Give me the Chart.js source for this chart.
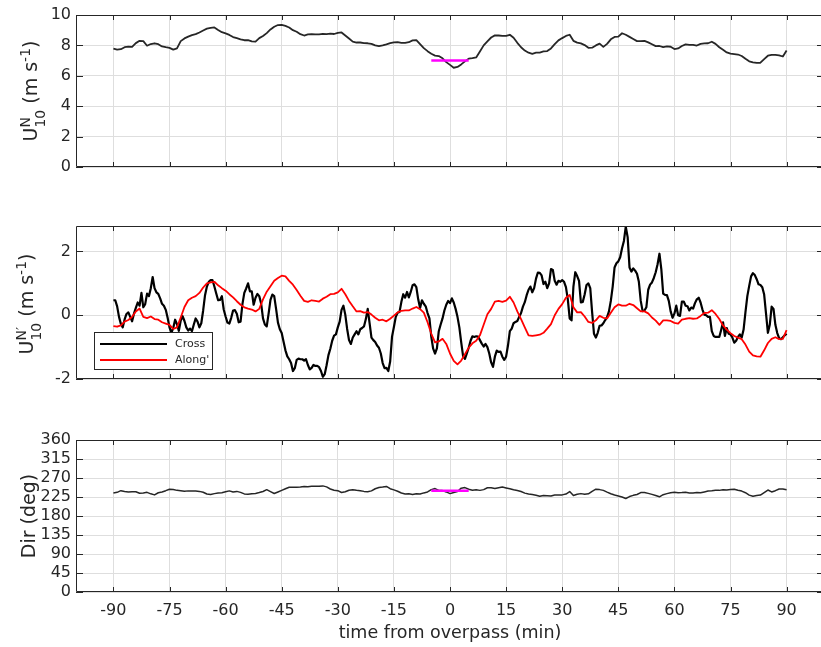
<!DOCTYPE html>
<html>
<head>
<meta charset="utf-8">
<script src="https://cdn.jsdelivr.net/npm/chart.js@4.4.1/dist/chart.umd.min.js"></script>
<style>
html,body{margin:0;padding:0;background:#ffffff;overflow:hidden;width:821px;height:647px;position:relative;}
canvas{position:absolute;left:0;}
</style>
</head>
<body>
<canvas id="c1" width="826" height="182" style="top:0px"></canvas>
<canvas id="c2" width="826" height="183" style="top:211px"></canvas>
<canvas id="c3" width="826" height="222" style="top:425px"></canvas>
<script>
// ---------------- data ----------------
const xTickValues = [-90,-75,-60,-45,-30,-15,0,15,30,45,60,75,90];
const u10TickValues = [0,2,4,6,8,10];
const primeTickValues = [-2,0,2];
const dirTickValues = [0,45,90,135,180,225,270,315,360];

const xTitle = 'time from overpass (min)';
const yTitleTop = [{t:'U'},{sup:'N',sub:'10'},{t:' (m s'},{sup:'-1'},{t:')'}];
const yTitleMid = [{t:'U'},{sup:'N\u2032',sub:'10'},{t:' (m s'},{sup:'-1'},{t:')'}];
const yTitleBottom = [{t:'Dir (deg)'}];
const legendLabels = ['Cross', "Along'"];

// U10N, one value per minute from -90 to 90
const u10Start = -90, u10Step = 1;
const u10Values = [
 7.78,7.72,7.75,7.88,7.92,7.9,8.15,8.3,8.28,7.98,
 8.09,8.14,8.08,7.93,7.88,7.84,7.72,7.8,8.28,8.46,
 8.58,8.68,8.74,8.85,8.98,9.1,9.15,9.18,9.02,8.87,
 8.79,8.69,8.55,8.48,8.4,8.34,8.35,8.27,8.25,8.48,
 8.62,8.81,9.05,9.23,9.34,9.35,9.28,9.18,9.0,8.9,
 8.74,8.65,8.72,8.74,8.72,8.72,8.76,8.74,8.77,8.75,
 8.82,8.85,8.65,8.45,8.25,8.19,8.19,8.15,8.14,8.1,
 8.0,7.95,8.0,8.07,8.15,8.2,8.21,8.17,8.17,8.21,
 8.33,8.35,8.08,7.82,7.62,7.45,7.33,7.3,7.15,6.9,
 6.72,
 6.53,6.58,6.75,6.95,7.13,7.16,7.21,7.6,8.0,8.27,
 8.52,8.66,8.65,8.63,8.63,8.7,8.5,8.17,7.88,7.66,
 7.52,7.45,7.52,7.53,7.6,7.63,7.8,8.08,8.33,8.48,
 8.62,8.7,8.3,8.18,8.13,8.02,7.84,7.85,8.0,8.12,
 7.9,8.1,8.4,8.56,8.58,8.8,8.7,8.56,8.42,8.28,
 8.28,8.3,8.2,8.08,7.95,7.96,7.89,7.93,7.91,7.76,
 7.8,7.96,8.07,8.04,8.04,7.99,8.1,8.13,8.14,8.24,
 8.1,7.88,7.71,7.54,7.46,7.43,7.4,7.3,7.12,6.95,
 6.89,6.85,6.86,7.1,7.32,7.38,7.38,7.34,7.27,7.67
];
const u10MeanTime = [-5, 5];
const u10MeanValues = [7.0, 7.0];

// Cross component, every 0.5 min from -90 to 90
const crossStart = -90, crossStep = 0.5;
const crossValues = [
 0.47,0.47,0.28,-0.05,-0.27,-0.38,-0.13,0.04,0.09,-0.05,
 -0.19,0.05,0.23,0.4,0.3,0.7,0.25,0.35,0.68,0.6,
 0.85,1.2,0.85,0.72,0.67,0.53,0.36,0.3,0.17,-0.08,
 -0.38,-0.55,-0.4,-0.14,-0.28,-0.49,-0.17,-0.03,-0.18,-0.38,
 -0.48,-0.42,-0.5,-0.29,-0.1,-0.2,-0.38,-0.25,0.15,0.63,
 0.9,1.05,1.1,1.1,0.9,0.68,0.47,0.48,0.6,0.18,
 -0.04,-0.23,-0.26,-0.08,0.15,0.16,0.05,-0.22,-0.2,0.35,
 0.7,0.84,1.0,0.75,0.75,0.33,0.55,0.67,0.6,0.37,
 -0.1,-0.29,-0.35,0.05,0.48,0.65,0.6,0.2,-0.23,-0.44,
 -0.56,-0.83,-1.1,-1.29,-1.38,-1.5,-1.75,-1.66,-1.4,-1.36,
 -1.38,-1.38,-1.42,-1.38,-1.56,-1.7,-1.65,-1.56,-1.59,-1.59,
 -1.63,-1.75,-1.93,-1.85,-1.57,-1.25,-1.05,-0.8,-0.64,-0.6,
 -0.38,-0.2,0.17,0.3,0.02,-0.43,-0.78,-0.9,-0.7,-0.6,
 -0.5,-0.6,-0.44,-0.4,-0.35,-0.12,0.2,-0.25,-0.7,-0.78,
 -0.84,-0.95,-1.02,-1.2,-1.5,-1.66,-1.65,-1.75,-1.45,-0.67,
 -0.37,-0.05,0.08,0.1,0.42,0.66,0.55,0.73,0.56,0.73,
 0.94,0.97,0.88,0.5,0.23,0.47,0.36,0.28,0.07,-0.1,
 -0.68,-1.05,-1.2,-1.04,-0.5,-0.29,-0.1,0.15,0.33,0.45,
 0.38,0.53,0.4,0.2,-0.05,-0.38,-0.85,-1.28,-1.37,-1.2,
 -1.02,-0.8,-0.66,-0.68,-0.66,-0.67,-0.78,-0.89,-0.98,-0.9,
 -1.0,-1.2,-1.48,-1.62,-1.3,-1.11,-1.15,-1.14,-1.3,-1.4,
 -1.3,-0.95,-0.5,-0.42,-0.25,-0.21,-0.18,-0.05,0.07,0.27,
 0.41,0.63,0.8,0.9,0.72,0.85,1.15,1.34,1.33,1.25,
 0.98,1.05,0.85,1.0,1.45,1.42,1.08,0.96,1.08,1.05,
 1.1,1.05,0.88,0.5,-0.1,-0.16,0.9,1.35,1.23,1.08,
 0.4,0.42,0.65,0.95,1.0,0.85,0.1,-0.58,-0.7,-0.55,
 -0.33,-0.32,-0.25,-0.15,-0.06,0.12,0.45,0.9,1.5,1.63,
 1.69,1.82,2.1,2.33,2.78,2.45,1.5,1.37,1.47,1.4,
 1.3,1.05,0.45,0.13,0.15,0.25,0.8,0.96,1.03,1.17,
 1.35,1.6,1.93,1.45,0.68,0.64,0.63,0.45,0.12,-0.08,
 0.05,0.3,0.0,-0.02,0.43,0.43,0.3,0.28,0.15,0.24,
 0.21,0.38,0.5,0.55,0.4,0.18,0.02,0.0,-0.05,-0.05,
 -0.5,-0.65,-0.68,-0.68,-0.68,-0.46,-0.22,-0.65,-0.4,-0.58,
 -0.6,-0.7,-0.86,-0.8,-0.68,-0.6,-0.7,-0.45,0.1,0.6,
 0.92,1.22,1.32,1.26,1.13,0.97,0.95,0.88,0.65,0.05,
 -0.55,-0.3,0.27,0.2,-0.3,-0.56,-0.72,-0.75,-0.69,-0.63,
 -0.58
];

// Along component, one value per minute from -90 to 90
const alongStart = -90, alongStep = 1;
const alongValues = [
 -0.34,-0.36,-0.32,-0.2,-0.15,-0.05,0.12,0.21,-0.05,-0.09,
 -0.04,-0.12,-0.14,-0.22,-0.26,-0.3,-0.43,-0.38,-0.07,0.26,
 0.47,0.55,0.6,0.7,0.87,1.0,1.03,1.05,0.94,0.85,
 0.77,0.66,0.56,0.44,0.33,0.25,0.21,0.18,0.12,0.2,
 0.5,0.74,0.91,1.08,1.17,1.24,1.22,1.08,0.96,0.79,
 0.61,0.45,0.42,0.47,0.45,0.43,0.52,0.58,0.66,0.67,
 0.72,0.83,0.66,0.45,0.28,0.12,0.13,0.08,0.1,0.02,
 -0.08,-0.16,-0.14,-0.19,-0.11,-0.01,0.09,0.14,0.15,0.15,
 0.21,0.26,0.19,0.08,-0.22,-0.58,-0.85,-0.82,-0.74,-0.9,
 -1.2,
 -1.43,-1.54,-1.42,-1.22,-1.02,-0.88,-0.8,-0.63,-0.3,0.03,
 0.2,0.43,0.45,0.42,0.46,0.58,0.4,0.12,-0.12,-0.38,
 -0.63,-0.65,-0.63,-0.61,-0.55,-0.42,-0.28,0.0,0.2,0.35,
 0.55,0.64,0.25,0.09,0.1,-0.04,-0.21,-0.24,-0.16,-0.02,
 -0.08,-0.1,0.08,0.25,0.34,0.3,0.3,0.36,0.32,0.22,
 0.12,0.12,0.06,-0.07,-0.17,-0.3,-0.16,-0.16,-0.18,-0.24,
 -0.26,-0.14,-0.11,-0.09,-0.11,-0.1,-0.02,0.07,0.08,0.16,
 0.04,-0.12,-0.32,-0.45,-0.56,-0.65,-0.7,-0.75,-0.92,-1.14,
 -1.26,-1.29,-1.3,-1.1,-0.87,-0.74,-0.69,-0.75,-0.74,-0.47
];

// Direction, one value per minute from -90 to 90
const dirStart = -90, dirStep = 1;
const dirValues = [
 234.5,236,240,238,237,237.5,237.5,234,234.5,236,
 232.5,230,235,237,240,243.5,243,240.7,240,238.5,
 239.5,239,239,238.3,236.3,232,230.7,233,234.4,235.3,
 237.5,239.5,237,238.3,236,232.3,231.3,232.5,233.5,235.5,
 238,242.3,237.7,233.3,237,240.7,244.5,248,248,248.3,
 248.7,249.8,249.3,250.2,250.2,250.2,251.3,249,244,241,
 240,235.7,237.5,241,242,240.8,240,238.3,237.5,239.5,
 244.5,247.5,248.5,250,244.6,241.8,238.5,234.5,232.3,232.5,
 231,232.6,232,234.7,237,242.5,245,240.5,240.2,237,
 233,
 235.5,238,246,247.3,243.5,241,242,240.7,242.5,246.8,
 247,245.3,247,248.5,246.5,244.6,242,240.5,238,234.2,
 232.3,230.8,229,226.6,228.5,228.2,227.3,229.5,229.6,230,
 232,238,228.5,231.5,233,231.5,232.5,238.5,243.5,242.5,
 240.7,236.5,232.7,229.8,227.5,225,221.5,226,228.9,231,
 235.5,235.5,233.6,231.2,228.5,225.5,230.5,233,235.2,236,
 235.2,235.5,236,234.6,234.4,235.5,235,237,239,240,
 241.2,240.7,242.3,241.5,242.5,243.5,241,239,235.2,229.5,
 226.6,228.5,229.5,235.5,241.5,237,240,244,244,242.3
];
const dirMeanTime = [-5, 5];
const dirMeanValues = [240, 240];

// ---------------- helpers ----------------
const TEXT = '#262626';
const GRID = '#dedede';
const FAMILY = 'DejaVu Sans';

function seriesPoints(start, step, values) {
  return values.map((v, i) => ({ x: start + i * step, y: v }));
}
function pairPoints(times, values) {
  return times.map((t, i) => ({ x: t, y: values[i] }));
}

const framePlugin = {
  id: 'frame',
  afterDatasetsDraw(chart, args, opts) {
    const { ctx, chartArea: a, scales } = chart;
    ctx.save();
    ctx.strokeStyle = TEXT;
    ctx.lineWidth = 1;
    ctx.beginPath();
    ctx.rect(a.left + 0.5, a.top + 0.5, a.right - a.left - 1, a.bottom - a.top - 1);
    ctx.stroke();
    ctx.beginPath();
    scales.x.ticks.forEach(t => {
      const p = Math.round(scales.x.getPixelForValue(t.value)) + 0.5;
      ctx.moveTo(p, a.bottom); ctx.lineTo(p, a.bottom - opts.xLen);
      ctx.moveTo(p, a.top); ctx.lineTo(p, a.top + opts.xLen);
    });
    scales.y.ticks.forEach(t => {
      const p = Math.round(scales.y.getPixelForValue(t.value)) + 0.5;
      ctx.moveTo(a.left, p); ctx.lineTo(a.left + opts.yLen, p);
      ctx.moveTo(a.right, p); ctx.lineTo(a.right - opts.yLen, p);
    });
    ctx.stroke();
    ctx.restore();
  }
};

const yTitlePlugin = {
  id: 'ytitle',
  afterDraw(chart, args, opts) {
    const { ctx, chartArea: a } = chart;
    const size = opts.size;
    const small = opts.small;
    const big = size + 'px "' + FAMILY + '"';
    const sm = small + 'px "' + FAMILY + '"';
    ctx.save();
    let total = 0;
    const widths = opts.parts.map(p => {
      let w;
      if (p.t !== undefined) { ctx.font = big; w = ctx.measureText(p.t).width; }
      else {
        ctx.font = sm;
        w = Math.max(p.sup ? ctx.measureText(p.sup).width : 0, p.sub ? ctx.measureText(p.sub).width : 0);
      }
      total += w;
      return w;
    });
    ctx.translate(opts.x, (a.top + a.bottom) / 2 + opts.dy);
    ctx.rotate(-Math.PI / 2);
    ctx.fillStyle = TEXT;
    ctx.textBaseline = 'alphabetic';
    ctx.textAlign = 'left';
    let x = -total / 2;
    opts.parts.forEach((p, i) => {
      if (p.t !== undefined) { ctx.font = big; ctx.fillText(p.t, x, 0); }
      else {
        ctx.font = sm;
        if (p.sup) ctx.fillText(p.sup, x, -size * 0.36);
        if (p.sub) ctx.fillText(p.sub, x, size * 0.42);
      }
      x += widths[i];
    });
    ctx.restore();
  }
};

const boxLegendPlugin = {
  id: 'boxLegend',
  afterDraw(chart, args, opts) {
    if (!opts || !opts.show) return;
    const { ctx, chartArea: a } = chart;
    const left = a.left + 18, top = a.bottom - 47, w = 118, h = 37;
    ctx.save();
    ctx.fillStyle = '#ffffff';
    ctx.fillRect(left, top, w, h);
    ctx.strokeStyle = TEXT;
    ctx.lineWidth = 1;
    ctx.strokeRect(Math.round(left) + 0.5, Math.round(top) + 0.5, w, h);
    ctx.font = '11px "' + FAMILY + '"';
    ctx.textBaseline = 'middle';
    ctx.textAlign = 'left';
    chart.data.datasets.forEach((ds, i) => {
      const y = top + 12 + i * 16;
      ctx.strokeStyle = ds.borderColor;
      ctx.lineWidth = ds.borderWidth;
      ctx.beginPath();
      ctx.moveTo(left + 6, y); ctx.lineTo(left + 73, y);
      ctx.stroke();
      ctx.fillStyle = TEXT;
      ctx.fillText(ds.label, left + 81, y);
    });
    ctx.restore();
  }
};

function makeChart(id, cfg) {
  return new Chart(document.getElementById(id), {
    type: 'line',
    data: { datasets: cfg.datasets },
    options: {
      responsive: false,
      animation: false,
      devicePixelRatio: 1,
      events: [],
      layout: { padding: { top: 15, bottom: cfg.showX ? 0 : 15, left: 0, right: 2 } },
      elements: { point: { radius: 0, hoverRadius: 0 }, line: { tension: 0, borderJoinStyle: 'round' } },
      plugins: {
        legend: { display: false },
        tooltip: { enabled: false },
        frame: { xLen: 5, yLen: 7 },
        ytitle: { parts: cfg.yTitle, x: cfg.yTitleX, dy: cfg.yTitleDy, size: 19, small: 14 },
        boxLegend: { show: !!cfg.legend }
      },
      scales: {
        x: {
          type: 'linear',
          min: -100, max: 100,
          afterBuildTicks: s => { s.ticks = xTickValues.map(v => ({ value: v })); },
          afterFit: s => { s.height = cfg.showX ? 55 : 0; },
          grid: { color: GRID, lineWidth: 1, drawTicks: false },
          border: { display: false },
          ticks: {
            display: cfg.showX, autoSkip: false, maxRotation: 0, padding: 9,
            color: TEXT, font: { family: FAMILY, size: 16 },
            callback: v => String(v)
          },
          title: {
            display: cfg.showX, text: xTitle, color: TEXT,
            font: { family: FAMILY, size: 17.5 }, padding: { top: 0, bottom: 3 }
          }
        },
        y: {
          type: 'linear',
          min: cfg.yMin, max: cfg.yMax,
          afterBuildTicks: s => { s.ticks = cfg.yTicks.map(v => ({ value: v })); },
          afterFit: s => { s.width = 76; },
          grid: { color: GRID, lineWidth: 1, drawTicks: false },
          border: { display: false },
          ticks: {
            autoSkip: false, padding: 5, color: TEXT,
            font: { family: FAMILY, size: 16 },
            callback: v => String(v)
          }
        }
      }
    },
    plugins: [framePlugin, yTitlePlugin, boxLegendPlugin]
  });
}

makeChart('c1', {
  showX: false, yMin: 0, yMax: 10, yTicks: u10TickValues,
  yTitle: yTitleTop, yTitleX: 37, yTitleDy: 0,
  datasets: [
    { label: 'U10N mean', data: pairPoints(u10MeanTime, u10MeanValues), borderColor: '#ff00ff', borderWidth: 2.5, order: 0 },
    { label: 'U10N', data: seriesPoints(u10Start, u10Step, u10Values), borderColor: '#262626', borderWidth: 1.8, order: 1 }
  ]
});

makeChart('c2', {
  showX: false, yMin: -2, yMax: 2.8, yTicks: primeTickValues,
  yTitle: yTitleMid, yTitleX: 33, yTitleDy: 1.5, legend: true,
  datasets: [
    { label: legendLabels[0], data: seriesPoints(crossStart, crossStep, crossValues), borderColor: '#000000', borderWidth: 2.2, order: 1 },
    { label: legendLabels[1], data: seriesPoints(alongStart, alongStep, alongValues), borderColor: '#ff0000', borderWidth: 1.8, order: 0 }
  ]
});

makeChart('c3', {
  showX: true, yMin: 0, yMax: 360, yTicks: dirTickValues,
  yTitle: yTitleBottom, yTitleX: 35, yTitleDy: 0,
  datasets: [
    { label: 'Dir mean', data: pairPoints(dirMeanTime, dirMeanValues), borderColor: '#ff00ff', borderWidth: 2.5, order: 0 },
    { label: 'Dir', data: seriesPoints(dirStart, dirStep, dirValues), borderColor: '#262626', borderWidth: 1.5, order: 1 }
  ]
});
</script>
</body>
</html>
